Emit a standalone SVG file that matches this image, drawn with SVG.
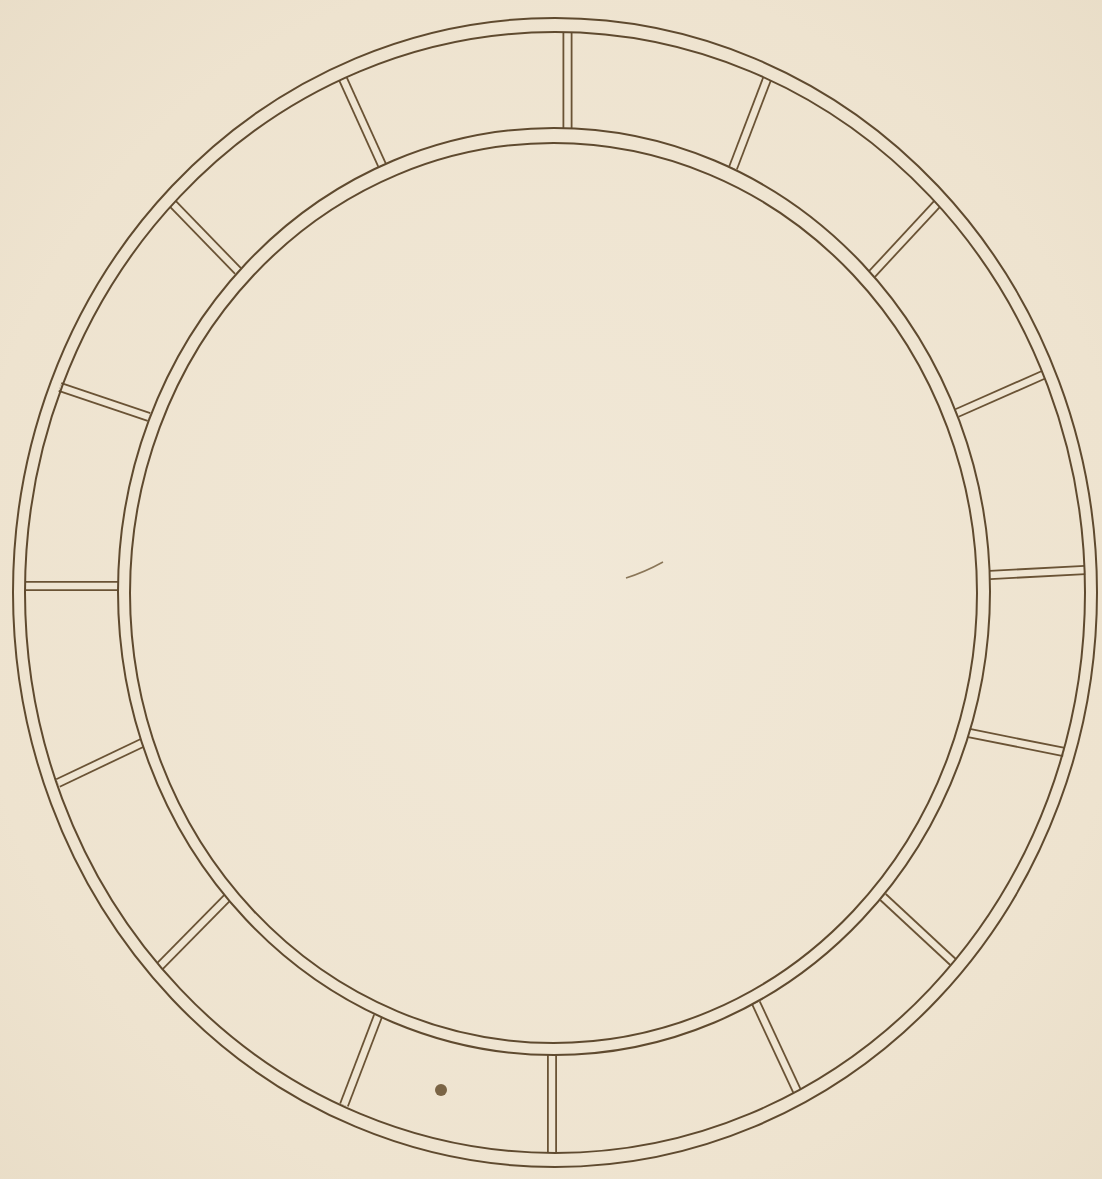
<svg xmlns="http://www.w3.org/2000/svg" xmlns:xlink="http://www.w3.org/1999/xlink" width="1102" height="1179" viewBox="0 0 1102 1179">
  <defs>
    <radialGradient id="paper" cx="50%" cy="50%" r="75%">
      <stop offset="0" stop-color="#f1e8d7"/>
      <stop offset="0.7" stop-color="#eee3cf"/>
      <stop offset="1" stop-color="#e8dcc6"/>
    </radialGradient>
    <g id="divs">
      <line x1="567.5" y1="32" x2="567.5" y2="128"/>
      <line x1="767" y1="79" x2="733" y2="168"/>
      <line x1="343" y1="79" x2="382" y2="165"/>
      <line x1="173" y1="204" x2="238" y2="271"/>
      <line x1="937" y1="204" x2="872" y2="274"/>
      <line x1="60" y1="387" x2="149" y2="417"/>
      <line x1="1043" y1="375" x2="957" y2="413"/>
      <line x1="25" y1="586" x2="118" y2="586"/>
      <line x1="990" y1="575" x2="1085" y2="570"/>
      <line x1="58" y1="783" x2="142" y2="743"/>
      <line x1="969" y1="733" x2="1064" y2="752"/>
      <line x1="883" y1="897" x2="953" y2="962"/>
      <line x1="756" y1="1003" x2="797" y2="1091"/>
      <line x1="552" y1="1055" x2="552" y2="1153"/>
      <line x1="378" y1="1016" x2="344" y2="1105"/>
      <line x1="227" y1="898" x2="160" y2="966"/>
    </g>
  </defs>
  <style>
    .ink { fill: none; stroke: #5f4a2f; stroke-width: 2; }
    .div-ink { fill: none; stroke: #6a5335; stroke-width: 10; }
    .div-gap { fill: none; stroke: #efe5d2; stroke-width: 6.4; }
  </style>
  <rect width="1102" height="1179" fill="url(#paper)"/>

  <g id="connectors">
    <use xlink:href="#divs" class="div-ink"/>
    <use xlink:href="#divs" class="div-gap"/>
  </g>

  <g id="outer-ring">
    <ellipse class="ink" cx="555" cy="592.5" rx="542" ry="574.5"/>
    <ellipse class="ink" cx="555" cy="592.5" rx="530" ry="560.5"/>
  </g>
  <g id="inner-ring">
    <ellipse class="ink" cx="554" cy="591.5" rx="436" ry="463.5"/>
    <ellipse class="ink" cx="553.5" cy="593" rx="423.5" ry="450"/>
  </g>

  <g id="marks">
    <circle cx="441" cy="1090" r="6" fill="#7a6445"/>
    <path d="M626 578 Q645 572 663 562" fill="none" stroke="#8a7658" stroke-width="1.5"/>
  </g>
</svg>
